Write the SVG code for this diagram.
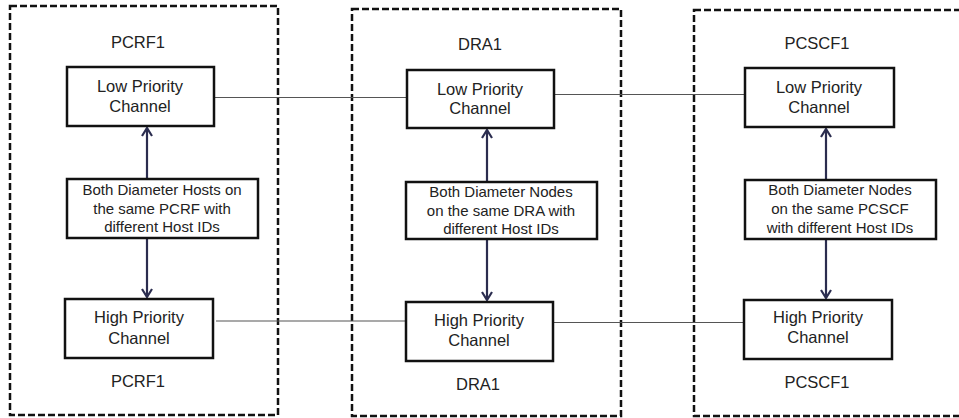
<svg xmlns="http://www.w3.org/2000/svg" width="959" height="418" viewBox="0 0 959 418">
<style>
.frame{fill:none;stroke:#111;stroke-width:2.5;stroke-dasharray:7 3}
.box{fill:#fff;stroke:#111;stroke-width:2.5}
.t{font-family:"Liberation Sans",Arial,sans-serif;font-size:16.5px;fill:#222;text-anchor:middle}
.m{font-family:"Liberation Sans",Arial,sans-serif;font-size:15px;fill:#222;text-anchor:middle}
.lbl{font-family:"Liberation Sans",Arial,sans-serif;font-size:16.5px;fill:#222;text-anchor:middle}
.link{stroke:#555;stroke-width:1.2;fill:none}
.arr{stroke:#2b2d4f;stroke-width:2.2;fill:none;marker-end:url(#ah)}
</style>
<defs>
<marker id="ah" viewBox="0 0 12 12" refX="10" refY="6" markerWidth="12" markerHeight="12" markerUnits="userSpaceOnUse" orient="auto">
<polyline points="2,1 10,6 2,11" fill="none" stroke="#2b2d4f" stroke-width="2.2"/>
</marker>
</defs>
<rect width="959" height="418" fill="#fff"/>
<g id="frames">
<rect id="frame-pcrf" class="frame" x="10" y="6" width="268" height="409"/>
<rect id="frame-dra" class="frame" x="352" y="9" width="269" height="407"/>
<rect id="frame-pcscf" class="frame" x="694" y="10" width="280" height="406"/>
</g>
<g id="connectors">
<line class="link" x1="214" y1="97.5" x2="407" y2="97.5"/>
<line class="link" x1="554" y1="94.5" x2="745" y2="94.5"/>
<line class="link" x1="216" y1="321" x2="406" y2="321"/>
<line class="link" x1="553" y1="322.5" x2="744" y2="322.5"/>
<line class="arr" x1="147" y1="179" x2="147" y2="128"/>
<line class="arr" x1="147" y1="238" x2="147" y2="297"/>
<line class="arr" x1="487" y1="182" x2="487" y2="130"/>
<line class="arr" x1="487" y1="239" x2="487" y2="300"/>
<line class="arr" x1="826" y1="180" x2="826" y2="129"/>
<line class="arr" x1="826" y1="239" x2="826" y2="298"/>
</g>
<g id="pcrf-top-label"><text class="lbl" x="138" y="48">PCRF1</text></g>
<g id="pcrf-low"><rect class="box" x="67" y="67" width="147" height="59"/><text class="t" x="140" y="92">Low Priority</text><text class="t" x="140" y="112">Channel</text></g>
<g id="pcrf-mid"><rect class="box" x="67" y="179" width="191" height="59"/><text class="m" x="162" y="195">Both Diameter Hosts on</text><text class="m" x="162" y="213.5">the same PCRF with</text><text class="m" x="162" y="232">different Host IDs</text></g>
<g id="pcrf-high"><rect class="box" x="65" y="299" width="148" height="59"/><text class="t" x="139" y="323">High Priority</text><text class="t" x="139" y="344">Channel</text></g>
<g id="pcrf-bottom-label"><text class="lbl" x="138" y="387">PCRF1</text></g>
<g id="dra-top-label"><text class="lbl" x="480" y="50">DRA1</text></g>
<g id="dra-low"><rect class="box" x="407" y="70" width="147" height="58"/><text class="t" x="480" y="95">Low Priority</text><text class="t" x="480" y="114">Channel</text></g>
<g id="dra-mid"><rect class="box" x="406" y="182" width="191" height="57"/><text class="m" x="501" y="197">Both Diameter Nodes</text><text class="m" x="501" y="216">on the same DRA with</text><text class="m" x="501" y="234">different Host IDs</text></g>
<g id="dra-high"><rect class="box" x="406" y="302" width="147" height="59"/><text class="t" x="479" y="326">High Priority</text><text class="t" x="479" y="346">Channel</text></g>
<g id="dra-bottom-label"><text class="lbl" x="478" y="390">DRA1</text></g>
<g id="pcscf-top-label"><text class="lbl" x="817" y="49">PCSCF1</text></g>
<g id="pcscf-low"><rect class="box" x="745" y="68" width="149" height="59"/><text class="t" x="819" y="93">Low Priority</text><text class="t" x="819" y="113">Channel</text></g>
<g id="pcscf-mid"><rect class="box" x="745" y="180" width="191" height="59"/><text class="m" x="840" y="195">Both Diameter Nodes</text><text class="m" x="840" y="214">on the same PCSCF</text><text class="m" x="840" y="233">with different Host IDs</text></g>
<g id="pcscf-high"><rect class="box" x="744" y="300" width="148" height="59"/><text class="t" x="818" y="323">High Priority</text><text class="t" x="818" y="343">Channel</text></g>
<g id="pcscf-bottom-label"><text class="lbl" x="817" y="388">PCSCF1</text></g>
</svg>
